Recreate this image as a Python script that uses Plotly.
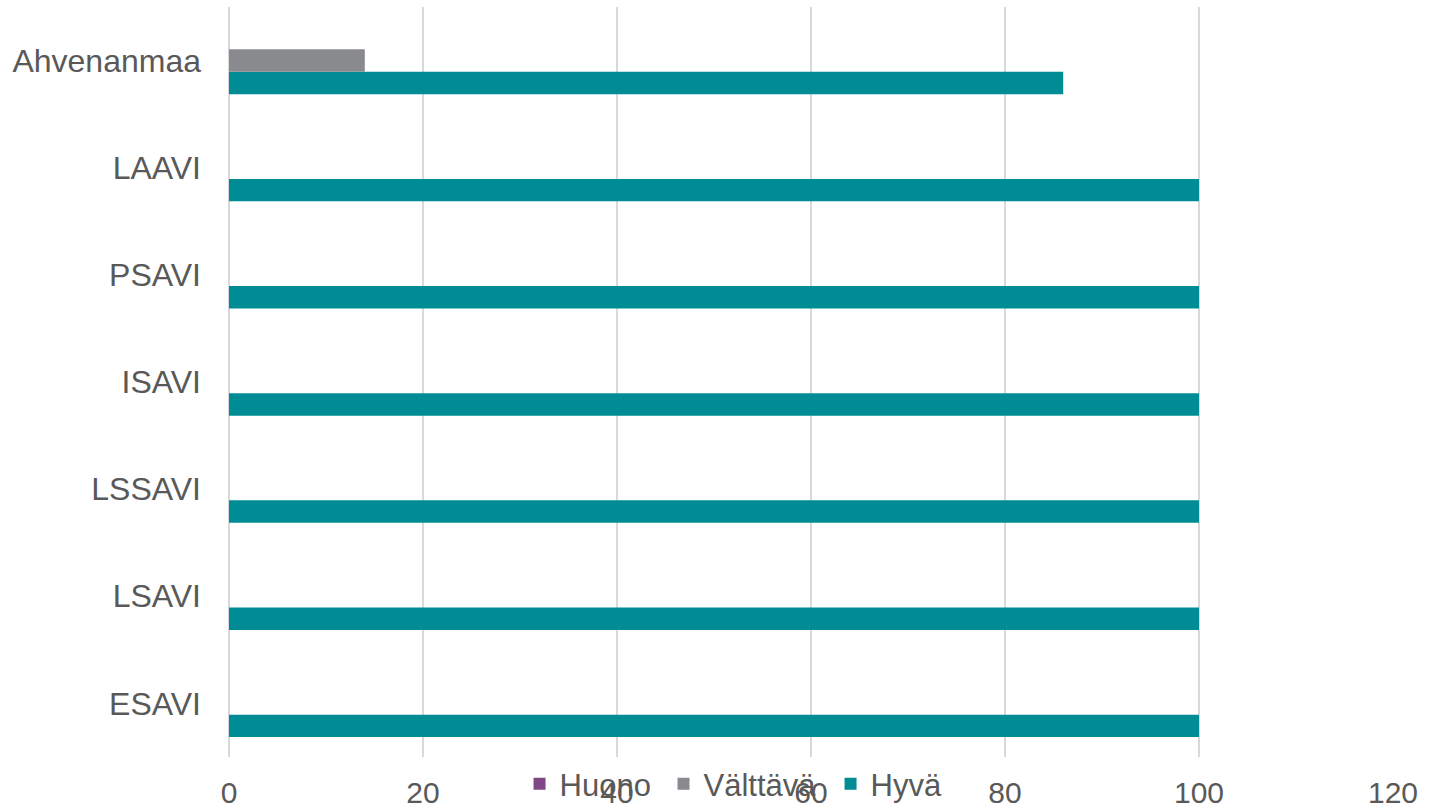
import plotly.graph_objects as go

regions = ['ESAVI', 'LSAVI', 'LSSAVI', 'ISAVI', 'PSAVI', 'LAAVI', 'Ahvenanmaa']
huono = [0, 0, 0, 0, 0, 0, 0]
valttava = [0, 0, 0, 0, 0, 0, 14]
hyva = [100, 100, 100, 100, 100, 100, 86]

FONT = 'Liberation Sans, Arial, sans-serif'
TEXT_COLOR = '#595959'

fig = go.Figure()

# bottom-up inside each group: Hyvä, Välttävä, Huono
fig.add_trace(go.Bar(y=regions, x=hyva, orientation='h', name='Hyvä', legend='legend3',
                     marker=dict(color='#008C95', line=dict(width=0))))
fig.add_trace(go.Bar(y=regions, x=valttava, orientation='h', name='Välttävä', legend='legend2',
                     marker=dict(color='#898A8D', line=dict(width=0))))
fig.add_trace(go.Bar(y=regions, x=huono, orientation='h', name='Huono', legend='legend',
                     marker=dict(color='#7F4785', line=dict(width=0))))

legend_style = dict(orientation='h', xanchor='left', y=-0.036, yanchor='middle',
                    font=dict(size=31, color=TEXT_COLOR), bgcolor='rgba(0,0,0,0)')

fig.update_layout(
    width=1429,
    height=808,
    showlegend=True,
    barmode='group',
    bargap=0.372,
    bargroupgap=0,
    plot_bgcolor='white',
    paper_bgcolor='white',
    font=dict(family=FONT, color=TEXT_COLOR, size=30),
    margin=dict(l=229, r=36, t=7, b=51, autoexpand=False),
    legend=dict(x=0.2496, **legend_style),
    legend2=dict(x=0.3733, **legend_style),
    legend3=dict(x=0.5168, **legend_style),
)

fig.update_xaxes(range=[0, 120], dtick=20, showgrid=True, gridcolor='#D9D9D9',
                 gridwidth=1.5, zeroline=True, zerolinecolor='#D9D9D9', zerolinewidth=1.5,
                 showline=False, tickfont=dict(size=30, color=TEXT_COLOR),
                 ticklabelstandoff=15)
fig.update_yaxes(showgrid=False, zeroline=False, showline=False,
                 tickfont=dict(size=32, color=TEXT_COLOR), ticklabelstandoff=27)

# drop the default 8px body margin so the figure fills the window
fig.write_html("out.html", config=dict(displayModeBar=False),
               post_script="document.body.style.margin='0';")
